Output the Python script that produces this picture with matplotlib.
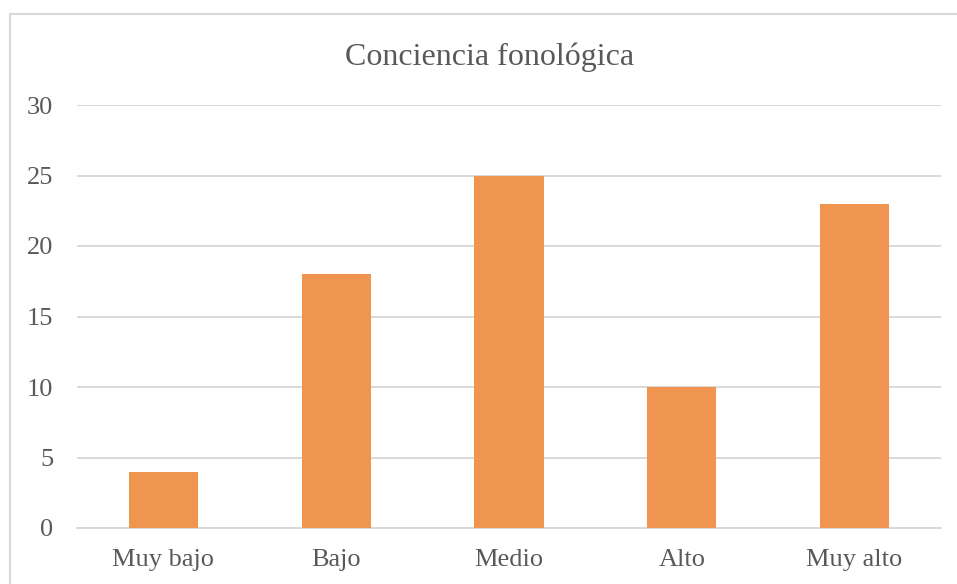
import matplotlib.pyplot as plt
from matplotlib.patches import Rectangle

categorias = ['Muy bajo', 'Bajo', 'Medio', 'Alto', 'Muy alto']
valores = [4, 18, 25, 10, 23]
titulo = 'Conciencia fonológica'

plt.rcParams['font.family'] = ['Liberation Serif', 'DejaVu Serif']
gris_texto = '#595959'
gris_linea = '#D9D9D9'

W, H = 957, 584
fig = plt.figure(figsize=(W / 100, H / 100), dpi=100)
ax = fig.add_axes([77 / W, (H - 528) / H, (941 - 77) / W, (528 - 105) / H])

x = range(len(categorias))
ax.bar(x, valores, width=0.4, color='#F0954F', zorder=3)

ax.set_xlim(-0.5, len(categorias) - 0.5)
ax.set_ylim(0, 30)
ax.set_yticks(range(0, 31, 5))
ax.set_xticks(list(x))
ax.set_xticklabels(categorias)

ax.grid(axis='y', color=gris_linea, linewidth=1.4, zorder=0)
for s in ['top', 'right', 'left']:
    ax.spines[s].set_visible(False)
ax.spines['bottom'].set_color(gris_linea)
ax.spines['bottom'].set_linewidth(1.4)
ax.tick_params(axis='both', length=0, labelsize=19, labelcolor=gris_texto)
ax.tick_params(axis='y', pad=17)
ax.tick_params(axis='x', pad=15)

fig.text(490 / W, 1 - 57 / H, titulo, ha='center', va='center',
         fontsize=23, color=gris_texto)

# marco del área del gráfico
fig.patches.append(Rectangle((9.5 / W, -0.1), 1.2, 1.1 - 14.5 / H,
                             transform=fig.transFigure, fill=False,
                             edgecolor=gris_linea, linewidth=1.5))

fig.savefig('out.png', dpi=100)
